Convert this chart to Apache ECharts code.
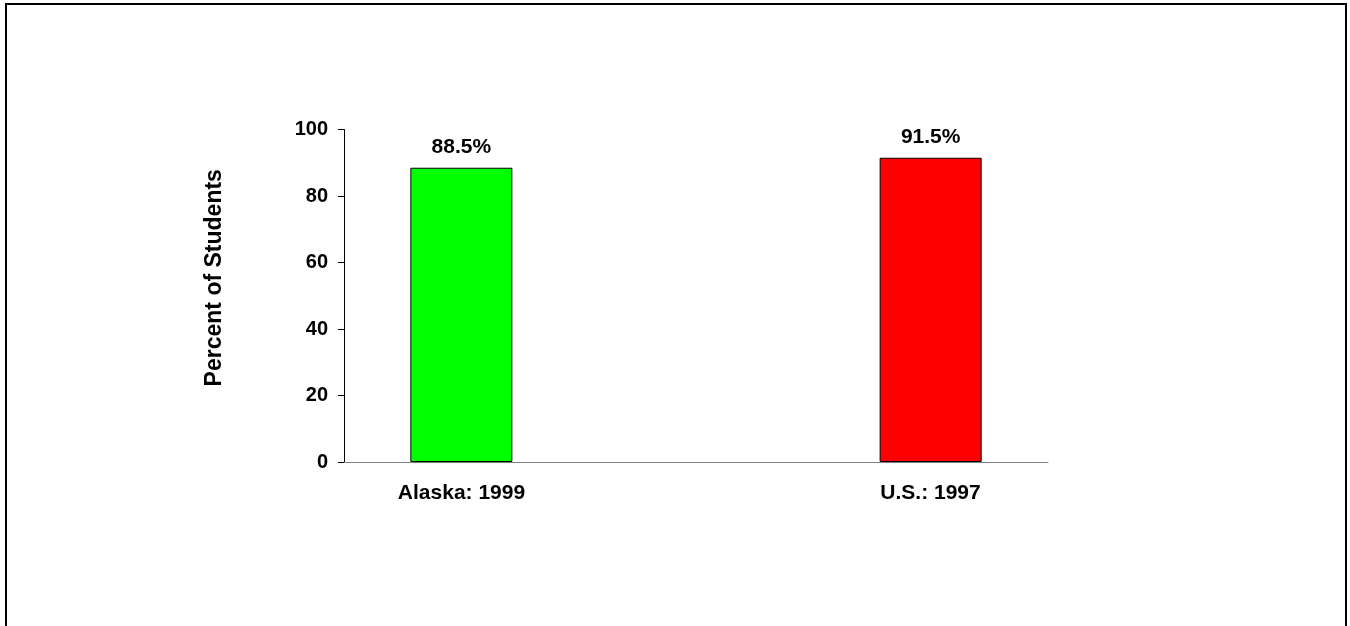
<!DOCTYPE html>
<html>
<head>
<meta charset="utf-8">
<script src="https://cdn.jsdelivr.net/npm/echarts@6/dist/echarts.min.js"></script>
<style>
html,body{margin:0;padding:0;background:#fff;}
#frame{position:absolute;left:5px;top:3px;width:1338px;height:700px;border:2px solid #000;}
#chart{position:absolute;left:0;top:0;width:1350px;height:626px;}
</style>
</head>
<body>
<div id="frame"></div>
<div id="chart"></div>
<script>
const categories = ['Alaska: 1999', 'U.S.: 1997'];
const alaskaValues = [88.5, '-'];
const usValues = ['-', 91.5];
const yTicks = [0, 20, 40, 60, 80, 100];
const yAxisTitle = 'Percent of Students';

const chart = echarts.init(document.getElementById('chart'), null, {renderer: 'canvas'});
const font = '"Liberation Sans", Arial, sans-serif';
chart.setOption({
  animation: false,
  grid: {left: 344, right: 302, top: 129.5, bottom: 164},
  xAxis: {
    type: 'category',
    data: categories,
    axisLine: {lineStyle: {color: '#808080', width: 1}},
    axisTick: {show: false},
    axisLabel: {
      margin: 21,
      formatter: function (v, i) { return (i === 0 ? '{a|' : '{b|') + v + '}'; },
      rich: {
        a: {fontFamily: font, fontWeight: 'bold', fontSize: 21, color: '#000', padding: [0, 117, 0, 0]},
        b: {fontFamily: font, fontWeight: 'bold', fontSize: 21, color: '#000', padding: [0, 0, 0, 117]}
      }
    }
  },
  yAxis: {
    type: 'value',
    min: yTicks[0],
    max: yTicks[yTicks.length - 1],
    interval: 20,
    name: yAxisTitle,
    nameLocation: 'middle',
    nameGap: 118,
    nameTextStyle: {fontFamily: font, fontWeight: 'bold', fontSize: 23, color: '#000', padding: [0, 0, 0, 36]},
    axisLine: {show: true, lineStyle: {color: '#000', width: 1}},
    axisTick: {show: true, length: 6, lineStyle: {color: '#000'}},
    splitLine: {show: false},
    axisLabel: {margin: 16, fontFamily: font, fontWeight: 'bold', fontSize: 20, color: '#000'}
  },
  series: [
    {
      type: 'bar', data: alaskaValues, barWidth: 102, barGap: '15%',
      itemStyle: {color: '#00FF00', borderColor: '#000', borderWidth: 1},
      label: {show: true, position: 'top', distance: 10, formatter: p => p.value + '%',
        fontFamily: font, fontWeight: 'bold', fontSize: 21, color: '#000'}
    },
    {
      type: 'bar', data: usValues, barWidth: 102, barGap: '15%',
      itemStyle: {color: '#FF0000', borderColor: '#000', borderWidth: 1},
      label: {show: true, position: 'top', distance: 10, formatter: p => p.value + '%',
        fontFamily: font, fontWeight: 'bold', fontSize: 21, color: '#000'}
    }
  ]
});
</script>
</body>
</html>
